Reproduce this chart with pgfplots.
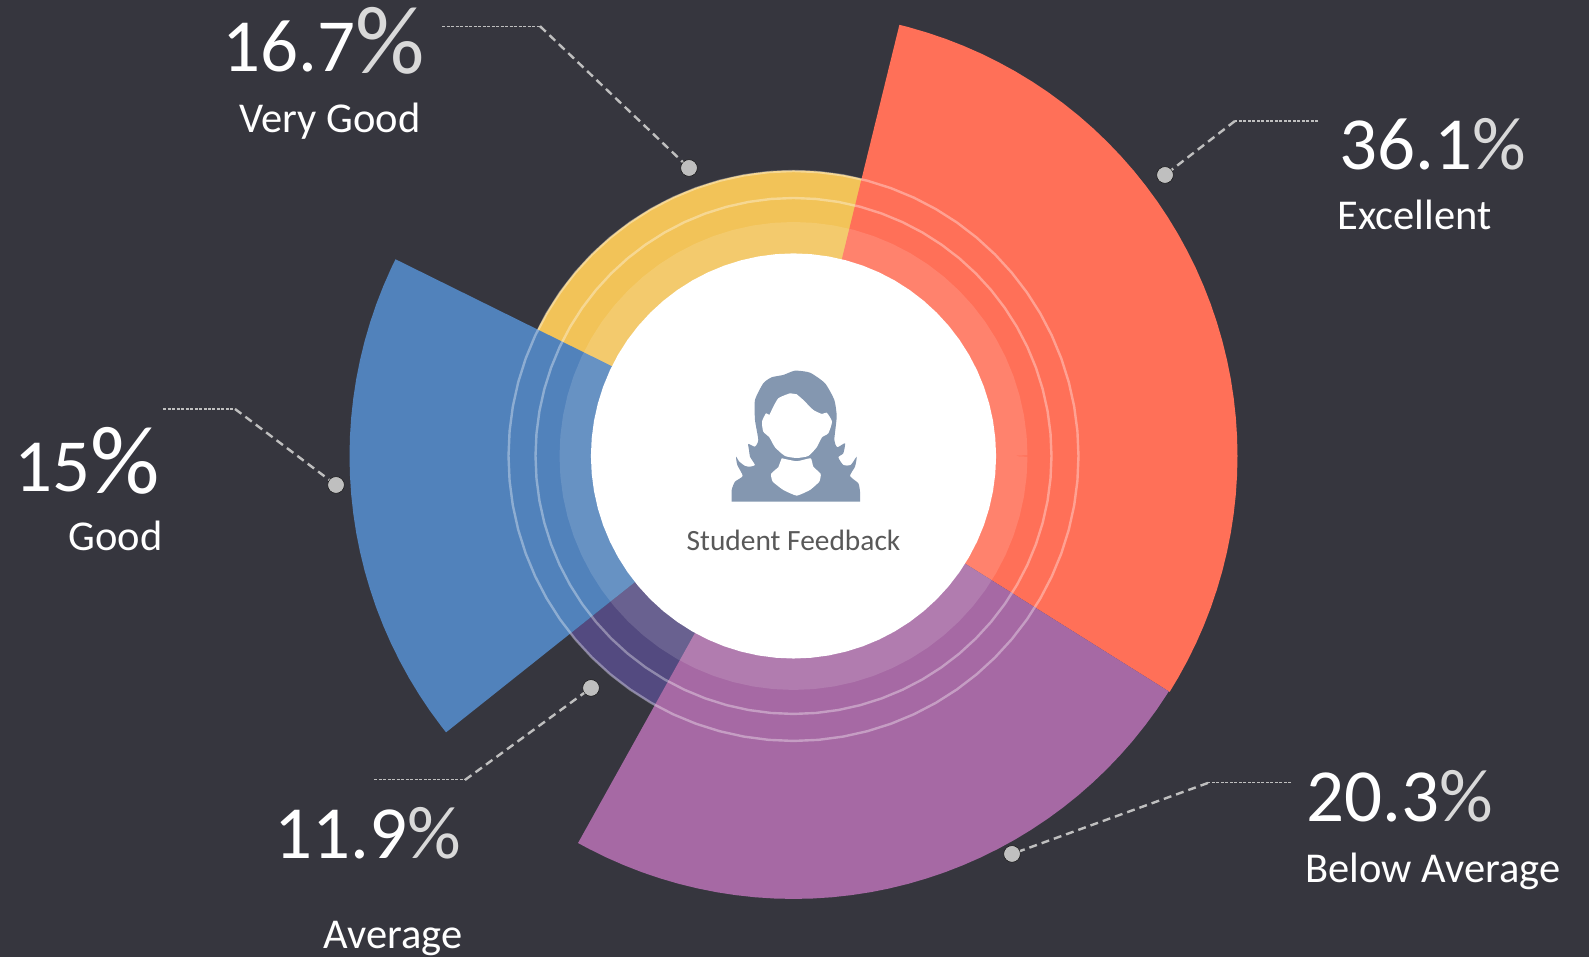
\documentclass[border=0pt]{standalone}
\usepackage{fontspec}
\setmainfont{Carlito}
\usepackage{pgfplots}
\usepackage{pgfplotstable}
\pgfplotsset{compat=1.18}
\definecolor{bgc}{HTML}{36363E}
\definecolor{orangec}{HTML}{FF7058}
\definecolor{yellowc}{HTML}{F2C358}
\definecolor{bluec}{HTML}{5182BB}
\definecolor{purplec}{HTML}{A669A4}
\definecolor{darkc}{HTML}{534A80}
\definecolor{iconc}{HTML}{8497B0}
\definecolor{leadc}{HTML}{BFBFBF}
\definecolor{pctc}{HTML}{D9D9D9}
\definecolor{sfc}{HTML}{595959}
\pgfplotstableread{
a r285 r258 r218 r203
0 285 258 218.3 202.6
5 285 258 218.3 202.6
10 285 258 218.3 202.6
15 285 258 218.3 202.6
20 285 258 218.3 202.6
25 285 258 218.3 202.6
30 285 258 218.3 202.6
35 285 258 218.3 202.6
40 285 258 218.3 202.6
45 285 258 218.3 202.6
50 285 258 218.3 202.6
55 285 258 218.3 202.6
60 285 258 218.3 202.6
65 285 258 218.3 202.6
70 285 258 218.3 202.6
75 285 258 218.3 202.6
80 285 258 218.3 202.6
85 285 258 218.3 202.6
90 285 258 218.3 202.6
95 285 258 218.3 202.6
100 285 258 218.3 202.6
105 285 258 218.3 202.6
110 285 258 218.3 202.6
115 285 258 218.3 202.6
120 285 258 218.3 202.6
125 285 258 218.3 202.6
130 285 258 218.3 202.6
135 285 258 218.3 202.6
140 285 258 218.3 202.6
145 285 258 218.3 202.6
150 285 258 218.3 202.6
155 285 258 218.3 202.6
160 285 258 218.3 202.6
165 285 258 218.3 202.6
170 285 258 218.3 202.6
175 285 258 218.3 202.6
180 285 258 218.3 202.6
185 285 258 218.3 202.6
190 285 258 218.3 202.6
195 285 258 218.3 202.6
200 285 258 218.3 202.6
205 285 258 218.3 202.6
210 285 258 218.3 202.6
215 285 258 218.3 202.6
220 285 258 218.3 202.6
225 285 258 218.3 202.6
230 285 258 218.3 202.6
235 285 258 218.3 202.6
240 285 258 218.3 202.6
245 285 258 218.3 202.6
250 285 258 218.3 202.6
255 285 258 218.3 202.6
260 285 258 218.3 202.6
265 285 258 218.3 202.6
270 285 258 218.3 202.6
275 285 258 218.3 202.6
280 285 258 218.3 202.6
285 285 258 218.3 202.6
290 285 258 218.3 202.6
295 285 258 218.3 202.6
300 285 258 218.3 202.6
305 285 258 218.3 202.6
310 285 258 218.3 202.6
315 285 258 218.3 202.6
320 285 258 218.3 202.6
325 285 258 218.3 202.6
330 285 258 218.3 202.6
335 285 258 218.3 202.6
340 285 258 218.3 202.6
345 285 258 218.3 202.6
350 285 258 218.3 202.6
355 285 258 218.3 202.6
360 285 258 218.3 202.6
}\circles
\newcommand{\fs}[1]{\fontsize{#1}{#1}\selectfont}
\begin{document}
\begin{tikzpicture}
\begin{axis}[
  scale only axis, width=1589pt, height=957pt,
  xmin=-793.5, xmax=795.5, ymin=-501, ymax=456,
  hide axis, clip=true,
  every node/.append style={inner sep=0pt, outer sep=0pt},
  lead thick/.style={draw=leadc, line width=2.4pt, dash pattern=on 8pt off 5pt},
  lead thin/.style={draw=leadc, line width=1.1pt, dash pattern=on 3pt off 1.5pt},
  dot/.style={only marks, mark=*, mark size=8.3pt, mark options={fill=leadc, draw=none}},
]
% background
\addplot[fill=bgc, draw=none] coordinates {(-793.5,-501)(795.5,-501)(795.5,456)(-793.5,456)} -- cycle;

% sectors: (angle, radius)
\addplot[fill=darkc, draw=none, data cs=polar] coordinates {(0,0)(218.5,285.5)(220,285.5)(222.5,285.5)(225,285.5)(227.5,285.5)(230,285.5)(232.5,285.5)(235,285.5)(237.5,285.5)(240,285.5)(241.5,285.5)} -- cycle;
\addplot[fill=yellowc, draw=none, data cs=polar] coordinates {(0,0)(75.5,285.5)(77.5,285.5)(80,285.5)(82.5,285.5)(85,285.5)(87.5,285.5)(90,285.5)(92.5,285.5)(95,285.5)(97.5,285.5)(100,285.5)(102.5,285.5)(105,285.5)(107.5,285.5)(110,285.5)(112.5,285.5)(115,285.5)(117.5,285.5)(120,285.5)(122.5,285.5)(125,285.5)(127.5,285.5)(130,285.5)(132.5,285.5)(135,285.5)(137.5,285.5)(140,285.5)(142.5,285.5)(145,285.5)(147.5,285.5)(150,285.5)(152.5,285.5)(154,285.5)} -- cycle;
\addplot[fill=orangec, draw=none, data cs=polar] coordinates {(0,0)(-32.1,444)(-30,444)(-27.5,444)(-25,444)(-22.5,444)(-20,444)(-17.5,444)(-15,444)(-12.5,444)(-10,444)(-7.5,444)(-5,444)(-2.5,444)(0,444)(2.5,444)(5,444)(7.5,444)(10,444)(12.5,444)(15,444)(17.5,444)(20,444)(22.5,444)(25,444)(27.5,444)(30,444)(32.5,444)(35,444)(37.5,444)(40,444)(42.5,444)(45,444)(47.5,444)(50,444)(52.5,444)(55,444)(57.5,444)(60,444)(62.5,444)(65,444)(67.5,444)(70,444)(72.5,444)(75,444)(76.2,444)} -- cycle;
\addplot[fill=bluec, draw=none, data cs=polar] coordinates {(0,0)(153.7,444)(155,444)(157.5,444)(160,444)(162.5,444)(165,444)(167.5,444)(170,444)(172.5,444)(175,444)(177.5,444)(180,444)(182.5,444)(185,444)(187.5,444)(190,444)(192.5,444)(195,444)(197.5,444)(200,444)(202.5,444)(205,444)(207.5,444)(210,444)(212.5,444)(215,444)(217.5,444)(218.5,444)} -- cycle;
\addplot[fill=purplec, draw=none, data cs=polar] coordinates {(0,0)(240.9,443)(242.5,443)(245,443)(247.5,443)(250,443)(252.5,443)(255,443)(257.5,443)(260,443)(262.5,443)(265,443)(267.5,443)(270,443)(272.5,443)(275,443)(277.5,443)(280,443)(282.5,443)(285,443)(287.5,443)(290,443)(292.5,443)(295,443)(297.5,443)(300,443)(302.5,443)(305,443)(307.5,443)(310,443)(312.5,443)(315,443)(317.5,443)(320,443)(322.5,443)(325,443)(327.5,443)(327.9,443)} -- cycle;

% light band, rings, white disc
\addplot[draw=white, draw opacity=0.13, line width=31.4pt, line join=round, data cs=polar] table[x=a,y=r218] {\circles};
\addplot[draw=white, draw opacity=0.35, line width=2.4pt, line join=round, data cs=polar] table[x=a,y=r285] {\circles};
\addplot[draw=white, draw opacity=0.35, line width=2.4pt, line join=round, data cs=polar] table[x=a,y=r258] {\circles};
\addplot[fill=white, draw=none, data cs=polar] table[x=a,y=r203] {\circles} -- cycle;

% icon
\addplot[fill=iconc, draw=none, smooth, tension=0.35] coordinates {(-61.8,-45.7)(-61.8,-34)(-58.5,-25.7)(-50.8,-20)(-56.2,-9)(-57.5,-0.7)(-54.2,-5.7)(-48.5,-10)(-43.5,-10.7)(-38.5,-9)(-43.5,-0.7)(-44.5,6)(-45.2,12)(-38.5,9.3)(-35.2,16)(-38.5,36)(-38.5,56)(-30.2,72.7)(-21.8,78.7)(-10.2,81)(1.5,85.3)(16.5,83.3)(31.5,72.7)(40.8,56)(43.2,39.3)(40.8,16)(43.8,8.7)(51.5,12.7)(49.8,2.7)(44.8,-1.3)(49.8,-9)(57.2,-9)(63.2,-0.7)(61.5,-10.7)(56.5,-20)(64.8,-27.3)(66.5,-35.7)(66.5,-45.7)} -- cycle;
\addplot[fill=white, draw=none, smooth, tension=0.35] coordinates {(-3.5,62.7)(-15.2,57.7)(-21.8,46)(-24.2,41)(-27.5,42.7)(-31.5,34.3)(-30.2,24.3)(-24.2,18.7)(-18.5,8.7)(-8.5,0)(3.2,-2)(14.8,0)(23.2,8.7)(28.5,18.7)(34.8,22.7)(38.5,34.3)(33.2,43.3)(28.5,42)(19.8,46)(9.8,56)(3.2,61.7)} -- cycle;
\addplot[fill=white, draw=none, smooth, tension=0.25] coordinates {(-11.8,-2.3)(3.2,-5.3)(17.2,-2.3)(19.8,-10.7)(27.2,-18)(25.8,-25.7)(16.5,-34)(3.2,-39.7)(-10.2,-34)(-20.8,-25.7)(-22.5,-18)(-15.2,-11.3)} -- cycle;

% leaders
\addplot[lead thin] coordinates {(-351.5,429.8)(-253.5,429.8)};
\addplot[lead thick] coordinates {(-253.5,429.8)(-104.5,288)};
\addplot[lead thin] coordinates {(524.5,335)(441.5,335)};
\addplot[lead thick] coordinates {(441.5,335)(371.5,281)};
\addplot[lead thin] coordinates {(-630.5,47)(-558.5,47)};
\addplot[lead thick] coordinates {(-558.5,47)(-457.5,-29)};
\addplot[lead thin] coordinates {(-419.5,-324)(-328.5,-324)};
\addplot[lead thick] coordinates {(-328.5,-324)(-202.5,-232)};
\addplot[lead thin] coordinates {(497.5,-327)(414.5,-327)};
\addplot[lead thick] coordinates {(414.5,-327)(218.5,-398)};
\addplot[dot] coordinates {(-104.5,288)(371.5,281)(-457.5,-29)(-202.5,-232)(218.5,-398)};

% labels
\node[anchor=base west, text=white] at (axis cs:-574.5,384) {\fs{75}16.7\textcolor{pctc}{\raisebox{-2pt}{\fs{97}\%}}};
\node[anchor=base west, text=white] at (axis cs:-557.5,323) {\fs{42.5}Very Good};
\node[anchor=base west, text=white] at (axis cs:542.5,286) {\fs{75}36.1\textcolor{pctc}{\%}};
\node[anchor=base west, text=white] at (axis cs:540.5,226) {\fs{42.5}Excellent};
\node[anchor=base west, text=white] at (axis cs:-782.5,-36) {\fs{75}15{\raisebox{-2pt}{\fs{97}\%}}};
\node[anchor=base west, text=white] at (axis cs:-728.5,-95) {\fs{42.5}Good};
\node[anchor=base west, text=white] at (axis cs:-522.5,-403) {\fs{75}11.9\textcolor{pctc}{\%}};
\node[anchor=base west, text=white] at (axis cs:-473.5,-493) {\fs{42.5}Average};
\node[anchor=base west, text=white] at (axis cs:509.5,-366) {\fs{75}20.3\textcolor{pctc}{\%}};
\node[anchor=base west, text=white] at (axis cs:508.5,-427) {\fs{42.5}Below Average};
\node[anchor=base, text=sfc] at (axis cs:0,-95) {\fs{29.4}Student Feedback};
\end{axis}
\end{tikzpicture}
\end{document}
